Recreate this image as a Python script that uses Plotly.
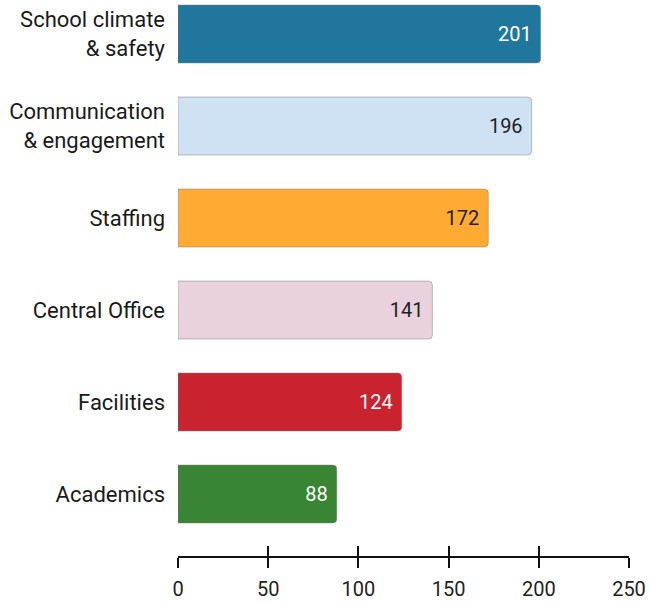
import plotly.graph_objects as go

categories = ["School climate<br>& safety", "Communication<br>& engagement", "Staffing",
              "Central Office", "Facilities", "Academics"]
values = [201, 196, 172, 141, 124, 88]
colors = ["#21769e", "#cfe2f3", "#ffaa33", "#e9d2dd", "#c8232f", "#3a8534"]
text_colors = ["#ffffff", "#222222", "#222222", "#222222", "#ffffff", "#ffffff"]
tick_vals = [0, 50, 100, 150, 200, 250]

fig = go.Figure()
fig.add_trace(go.Bar(
    x=values, y=categories, orientation="h",
    marker=dict(color=colors, line=dict(color="rgba(120,120,120,0.45)", width=1)),
    text=[f"{v}\u00a0" for v in values], textposition="inside", insidetextanchor="end",
    textfont=dict(color=text_colors, size=20, family="Roboto"),
    cliponaxis=False, hoverinfo="skip",
))
# invisible trace to host the upward ticks axis
fig.add_trace(go.Bar(x=[None], y=[None], xaxis="x2", showlegend=False, hoverinfo="skip"))

fig.update_layout(
    width=650, height=602,
    margin=dict(l=178, r=21, t=0, b=46),
    paper_bgcolor="white", plot_bgcolor="white",
    showlegend=False,
    bargap=0.37,
    barcornerradius=4,
    font=dict(family="Roboto", size=20, color="#222222"),
    xaxis=dict(range=[0, 250], tickvals=tick_vals, ticks="outside", ticklen=10,
               tickwidth=1.8, tickcolor="#111111", showline=True, linecolor="#111111",
               linewidth=1.8, showgrid=False, zeroline=False, automargin=False,
               tickfont=dict(size=20, color="#222222"), ticklabelstandoff=4),
    xaxis2=dict(range=[0, 250], tickvals=tick_vals, ticks="inside", ticklen=10,
                tickwidth=1.8, tickcolor="#111111", showticklabels=False,
                overlaying="x", anchor="y", side="bottom", showgrid=False,
                zeroline=False, showline=False, automargin=False),
    yaxis=dict(range=[5.674, -0.37], showgrid=False, zeroline=False, showline=False,
               automargin=False,
               ticks="", ticklabelstandoff=12, tickfont=dict(size=22, color="#1a1a1a")),
)

fig.write_html("out.html")
